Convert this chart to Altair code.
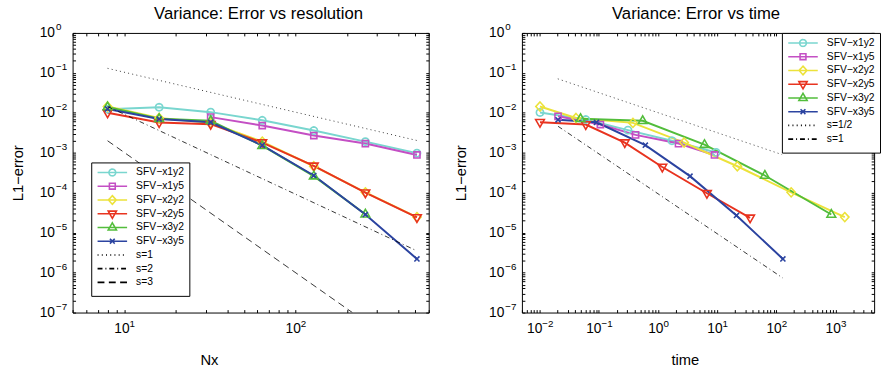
import math
import altair as alt
import pandas as pd

FONT = "Liberation Sans"

# ---------------- data ----------------
series_names = ["SFV\u2212x1y2", "SFV\u2212x1y5", "SFV\u2212x2y2", "SFV\u2212x2y5", "SFV\u2212x3y2", "SFV\u2212x3y5"]
series_colors = ["#79d6cf", "#c44fc4", "#ece23a", "#e8331f", "#52bd3b", "#2b43a0"]

# left panel: error vs resolution
nx = [8, 16, 32, 64, 128, 256, 512]
res_x1y2 = [0.0123, 0.0138, 0.0104, 0.0065, 0.0036, 0.0019, 0.00098]
res_x1y5 = [None, None, 0.0078, 0.0048, 0.0027, 0.0017, 0.00088]
res_x2y2 = [0.0144, 0.0074, 0.0056, 0.0019, 0.00046, 0.000102, 0.0000245]
res_x2y5 = [0.0100, 0.0057, 0.0052, 0.0018, 0.00047, 0.000100, 0.0000240]
res_x3y2 = [0.0140, 0.0071, 0.0063, 0.0015, 0.00026, 0.0000290, None]
res_x3y5 = [0.0125, 0.0070, 0.0058, 0.00154, 0.00027, 0.0000285, 0.0000022]

# right panel: error vs time
t_x1y2 = [0.0101, 0.060, 0.31, 1.72, 9.6]
e_x1y2 = [0.0102, 0.0068, 0.0037, 0.0020, 0.00102]
t_x1y5 = [0.0204, 0.106, 0.417, 2.22, 9.0]
e_x1y5 = [0.0082, 0.0051, 0.0028, 0.0017, 0.00088]
t_x2y2 = [0.0101, 0.041, 0.376, 2.76, 21.9, 178, 1436]
e_x2y2 = [0.0144, 0.0074, 0.0056, 0.0018, 0.00046, 0.000102, 0.0000245]
t_x2y5 = [0.0101, 0.060, 0.274, 1.18, 6.7, 36]
e_x2y5 = [0.0058, 0.0051, 0.0018, 0.00044, 0.000097, 0.0000235]
t_x3y2 = [0.049, 0.55, 6.1, 64, 850]
e_x3y2 = [0.0071, 0.0063, 0.0016, 0.00027, 0.0000285]
t_x3y5 = [0.0204, 0.091, 0.61, 3.47, 21.2, 129]
e_x3y5 = [0.0067, 0.0058, 0.00155, 0.00026, 0.000027, 0.0000022]

# reference slopes (end points)
left_guides = ["s=1", "s=2", "s=3"]
g_s1_x = [8, 512]
g_s1_y = [0.13, 0.00203]
g_s2_x = [8, 512]
g_s2_y = [0.0144, 0.0000035]
g_s3_x = [8, 215]
g_s3_y = [0.0020, 0.0000001]

right_guides = ["s=1/2", "s=1"]
g_h_x = [0.0202, 125]
g_h_y = [0.071, 0.0009]
g_1_x = [0.0204, 129]
g_1_y = [0.0046, 0.00000073]

# ---------------- tables ----------------
def series_df(xs_list, ys_list):
    rows = []
    for name, xs, ys in zip(series_names, xs_list, ys_list):
        for x, y in zip(xs, ys):
            if y is not None:
                rows.append({"x": x, "y": y, "series": name})
    return pd.DataFrame(rows)

left_df = series_df([nx] * 6, [res_x1y2, res_x1y5, res_x2y2, res_x2y5, res_x3y2, res_x3y5])
right_df = series_df([t_x1y2, t_x1y5, t_x2y2, t_x2y5, t_x3y2, t_x3y5],
                     [e_x1y2, e_x1y5, e_x2y2, e_x2y5, e_x3y2, e_x3y5])

def guide_df(names, xs_list, ys_list):
    rows = []
    for name, xs, ys in zip(names, xs_list, ys_list):
        for x, y in zip(xs, ys):
            rows.append({"x": x, "y": y, "guide": name})
    return pd.DataFrame(rows)

left_gdf = guide_df(left_guides, [g_s1_x, g_s2_x, g_s3_x], [g_s1_y, g_s2_y, g_s3_y])
right_gdf = guide_df(right_guides, [g_h_x, g_1_x], [g_h_y, g_1_y])

# ---------------- styles ----------------
def poly(pts):
    return "M" + "L".join(f"{x:.3f},{y:.3f}" for x, y in pts) + "Z"

circle = poly([(math.cos(2 * math.pi * i / 16), math.sin(2 * math.pi * i / 16)) for i in range(16)])
square = "M-0.85,-0.85L0.85,-0.85L0.85,0.85L-0.85,0.85Z"
diamond = "M0,-1.25L1.15,0L0,1.25L-1.15,0Z"
tri_down = "M-1.2,-0.75L1.2,-0.75L0,1.35Z"
tri_up = "M-1.2,0.75L1.2,0.75L0,-1.35Z"
xmark = "M-0.7,-0.7L0.7,0.7M-0.7,0.7L0.7,-0.7"
marker_paths = [circle, square, diamond, tri_down, tri_up, xmark]
# legend symbol: a line segment; the zero-length pieces only give every entry the same height
LINE = "M-4.3,0L4.3,0M0,-1.35L0,-1.35M0,1.35L0,1.35"

dash_map = {"s=1": [1, 3.3], "s=2": [5, 3, 1, 3], "s=3": [7, 4.5], "s=1/2": [1, 3.3]}
dash_map_right = {"s=1/2": [1, 3.3], "s=1": [5, 3, 1, 3]}

def tick_values(lo, hi):
    vals = []
    for k in range(-9, 5):
        for m in range(1, 10):
            v = float(f"{m}e{k}")
            if lo * (1 - 1e-9) <= v <= hi * (1 + 1e-9):
                vals.append(v)
    return vals

def decades(lo, hi):
    return [float(f"1e{k}") for k in range(-9, 5) if lo * (1 - 1e-9) <= float(f"1e{k}") <= hi * (1 + 1e-9)]

IS_DEC = "abs(log(datum.value)/LN10 - round(log(datum.value)/LN10)) < 1e-6"
EXP = "replace(format(round(log(datum.value)/LN10), 'd'), '-', '\u2212')"

Y_DOM = [1e-7, 1]
H = 285


def panel(df, gdf, guides, dashes, xdom, width, xtitle, xtitle_x, ytitle_x, ten_offset,
          leg_x, leg_y, row_pad, title, title_dx):
    xs = alt.Scale(type="log", domain=xdom, nice=False)
    ys = alt.Scale(type="log", domain=Y_DOM, nice=False)
    x_all = tick_values(*xdom)
    x_dec = decades(*xdom)
    y_all = tick_values(*Y_DOM)
    y_dec = decades(*Y_DOM)

    common = dict(domain=False, grid=False, tickColor="black", labelColor="black",
                  labelFont=FONT, labelOverlap=False, labelFlush=False)

    x_main = alt.Axis(orient="bottom", offset=-3, tickSize=3, values=x_all,
                      labelExpr=f"{IS_DEC} ? '10' : ''", labelFontSize=14, labelPadding=9.7,
                      labelAlign="center", labelBaseline="top", labelOffset=ten_offset,
                      title=xtitle, titleFont=FONT, titleFontSize=15, titleFontWeight="normal",
                      titleColor="black", titleX=xtitle_x, titleY=50.5, titleAlign="center",
                      titleBaseline="middle", **common)
    x_exp = alt.Axis(orient="bottom", offset=-3, tickSize=3, tickOpacity=0, values=x_dec,
                     labelExpr=EXP, labelFontSize=10, labelPadding=6.3, labelAlign="center",
                     labelBaseline="top", labelOffset=7.8, title=None, **common)
    x_top = alt.Axis(orient="top", offset=-3, tickSize=3, values=x_all, labels=False,
                     title=None, domain=False, grid=False, tickColor="black")

    y_main = alt.Axis(orient="left", offset=-3, tickSize=3, values=y_all,
                      labelExpr=f"{IS_DEC} ? '10' : ''", labelFontSize=14, labelPadding=34,
                      labelAlign="left", labelBaseline="middle",
                      title="L1\u2212error", titleFont=FONT, titleFontSize=15, titleFontWeight="normal",
                      titleColor="black", titleX=ytitle_x - 3, titleY=H / 2, titleAngle=270,
                      titleAlign="center", titleBaseline="middle", **common)
    y_exp = alt.Axis(orient="left", offset=-3, tickSize=3, tickOpacity=0, values=y_dec,
                     labelExpr=EXP, labelFontSize=10, labelPadding=17.4, labelAlign="left",
                     labelBaseline="middle", labelOffset=-6, title=None, **common)
    y_right = alt.Axis(orient="right", offset=-3, tickSize=3, values=y_all, labels=False,
                       title=None, domain=False, grid=False, tickColor="black")

    color_data = alt.Scale(domain=series_names, range=series_colors)

    lines = alt.Chart(df).mark_line(strokeWidth=2, clip=True).encode(
        x=alt.X("x:Q", scale=xs, axis=x_main),
        y=alt.Y("y:Q", scale=ys, axis=y_main),
        color=alt.Color("series:N", scale=color_data, legend=None),
    )
    points = alt.Chart(df).mark_point(filled=False, size=55, strokeWidth=1.6, opacity=1, clip=True).encode(
        x=alt.X("x:Q", scale=xs, axis=x_exp),
        y=alt.Y("y:Q", scale=ys, axis=y_exp),
        color=alt.Color("series:N", scale=color_data, legend=None),
        shape=alt.Shape("series:N", scale=alt.Scale(domain=series_names, range=marker_paths), legend=None),
    )
    guide_lines = alt.Chart(gdf).mark_line(strokeWidth=0.8, color="black", clip=True).encode(
        x=alt.X("x:Q", scale=xs, axis=x_top),
        y=alt.Y("y:Q", scale=ys, axis=y_right),
        strokeDash=alt.StrokeDash("guide:N", scale=alt.Scale(domain=guides, range=[dashes[g] for g in guides]),
                                  legend=None),
    )

    labels = series_names + guides
    leg_df = pd.DataFrame({"label": labels})
    leg_colors = series_colors + ["black"] * len(guides)
    leg_shapes = [LINE + p for p in marker_paths] + [LINE] * len(guides)
    leg_dashes = [[1, 0]] * len(series_names) + [dashes[g] for g in guides]
    legend = alt.Legend(orient="none", legendX=leg_x, legendY=leg_y, title=None,
                        labelFont=FONT, labelFontSize=10.5, labelColor="black",
                        symbolSize=49, symbolOffset=11.25, labelOffset=19,
                        symbolStrokeWidth=1.6,
                        padding=5, rowPadding=row_pad, strokeColor="black", fillColor="white",
                        cornerRadius=0)
    leg = alt.Chart(leg_df).mark_point(filled=False, opacity=1, clip=True).encode(
        x=alt.value(-300),
        y=alt.value(-300),
        color=alt.Color("label:N", scale=alt.Scale(domain=labels, range=leg_colors), legend=legend),
        shape=alt.Shape("label:N", scale=alt.Scale(domain=labels, range=leg_shapes)),
        strokeDash=alt.StrokeDash("label:N", scale=alt.Scale(domain=labels, range=leg_dashes)),
    )

    return alt.layer(lines, points, guide_lines, leg).resolve_scale(
        color="independent", shape="independent", strokeDash="independent"
    ).resolve_axis(x="independent", y="independent").properties(
        width=width, height=H,
        title=alt.Title(title, font=FONT, fontSize=17, fontWeight="normal", color="black",
                        offset=-1, dx=title_dx, anchor="middle"),
    )


left = panel(left_df, left_gdf, left_guides, dash_map, [5, 600], 363, "Nx", 139, -56, -2.8,
             19, 132, -3, "Variance: Error vs resolution", 8)
right = panel(right_df, right_gdf, right_guides, dash_map_right, [0.005, 4500], 359, "time", 166, -62,
              {"condition": {"test": "datum.value < 1", "value": -5.7}, "value": -2.8},
              265, 0, -7, "Variance: Error vs time", -2)

chart = alt.hconcat(left, right, spacing=95, bounds="flush").properties(
    padding={"left": 10, "top": 1, "right": 0, "bottom": 0}
).configure(font=FONT).configure_view(stroke="black", strokeWidth=1)

chart.save("out.html", embed_options={"renderer": "svg", "actions": False})
